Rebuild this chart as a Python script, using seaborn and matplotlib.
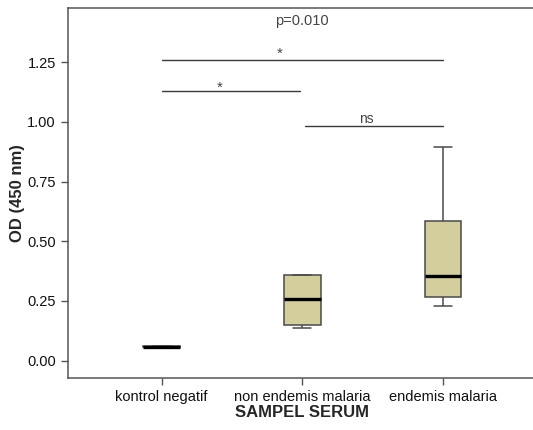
import numpy as np
import pandas as pd
import matplotlib
matplotlib.use("Agg")
import matplotlib.pyplot as plt
import seaborn as sns

# five-number summaries (min, Q1, median, Q3, max)
groups = ["kontrol negatif", "non endemis malaria", "endemis malaria"]
kontrol = [0.056, 0.057, 0.059, 0.061, 0.062]
non_endemis = [0.138, 0.150, 0.257, 0.359, 0.359]
endemis = [0.229, 0.268, 0.355, 0.587, 0.897]

# significance brackets: (x start, x end, y, label, label x, label y)
brackets = [
    (0, 2, 1.258, "*", 0.84, 1.286),
    (0, 0.985, 1.128, "*", 0.415, 1.143),
    (1.016, 2, 0.982, "ns", 1.458, 1.013),
]
p_text = "p=0.010"

df = pd.DataFrame({
    "SAMPEL SERUM": np.repeat(groups, 5),
    "OD (450 nm)": kontrol + non_endemis + endemis,
})

sns.set_style("white")
plt.rcParams["font.family"] = ["Liberation Sans", "DejaVu Sans"]

fig = plt.figure(figsize=(5.33, 4.3), dpi=100)
ax = fig.add_axes([0.127, 0.1202, 0.8805, 0.8605])

sns.boxplot(data=df, x="SAMPEL SERUM", y="OD (450 nm)", order=groups,
            color="#D3CE9C", width=0.26, whis=np.inf, linewidth=1.1,
            linecolor="#4a4a4a", saturation=1,
            medianprops={"color": "black", "linewidth": 2.4},
            ax=ax)

for x0, x1, y, lab, lx, ly in brackets:
    ax.plot([x0, x1], [y, y], color="#3a3a3a", lw=1)
    fs = 11 if lab == "*" else 10
    ax.text(lx, ly, lab, ha="center", va="center", fontsize=fs, color="#444444")
ax.text(1.0, 1.423, p_text, ha="center", va="center", fontsize=10.5, color="#444444")

ax.set_xlim(-0.669, 2.669)
ax.set_ylim(-0.074, 1.476)
ax.set_yticks([0, 0.25, 0.5, 0.75, 1.0, 1.25])
ax.set_yticklabels(["0.00", "0.25", "0.50", "0.75", "1.00", "1.25"])

for side in ["left", "bottom", "top"]:
    ax.spines[side].set_color("#555555")
    ax.spines[side].set_linewidth(1.1)
ax.spines["right"].set_visible(False)
ax.tick_params(axis="both", direction="out", length=5, width=1, color="#555555",
               labelsize=10.5, labelcolor="#111111", left=True, bottom=True)

ax.set_xlabel("SAMPEL SERUM", fontsize=12, fontweight="bold")
ax.set_ylabel("OD (450 nm)", fontsize=12, fontweight="bold")
ax.xaxis.label.set_va("center")
ax.xaxis.set_label_coords(0.5, -0.092)
ax.yaxis.label.set_va("center")
ax.yaxis.set_label_coords(-0.106, 0.5)

fig.savefig("out.png", dpi=100)
